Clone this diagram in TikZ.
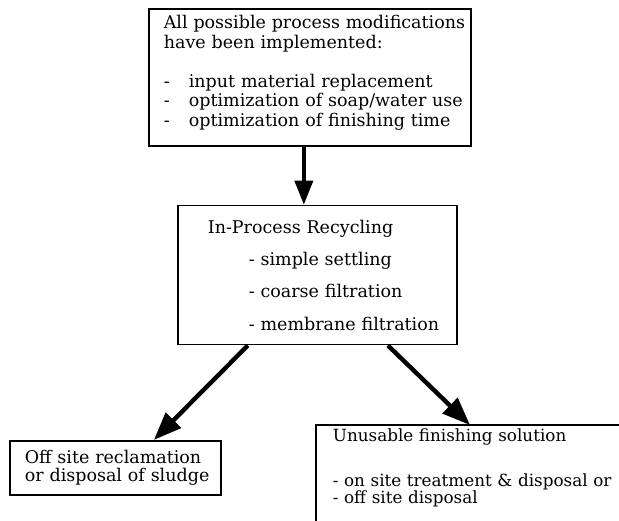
\documentclass[tikz,border=0pt]{standalone}
\usepackage{fontspec}
\setmainfont{DejaVu Serif}
\usetikzlibrary{calc}
\usetikzlibrary{positioning}
\usetikzlibrary{arrows.meta}

\tikzset{
    box/.style={rectangle, draw, line width=1.7pt, align=left, inner ysep=0pt, font=\fontsize{17.5}{19.5}\selectfont},
    flow/.style={line width=3.6pt, -{Triangle[length=24pt, width=18pt]}},
    bigflow/.style={line width=4.4pt, -{Triangle[length=28pt, width=21pt]}},
}

\begin{document}
\begin{tikzpicture}[x=1pt, y=-1pt]
    \useasboundingbox (0,0) rectangle (619,521);
    \clip (0,0) rectangle (619,521);

    \node [box, anchor=north west, minimum width=322pt, minimum height=137pt, text width=316pt, inner xsep=3pt] (mods) at (148,8) {\hspace*{12pt}All possible process modifications\\\hspace*{12pt}have been implemented:\\[19.5pt]\hspace*{12pt}\makebox[25pt][l]{-}input material replacement\\\hspace*{12pt}\makebox[25pt][l]{-}optimization of soap/water use\\\hspace*{12pt}\makebox[25pt][l]{-}optimization of finishing time\rule[-13.4pt]{0pt}{13.4pt}};

    \node [box, minimum width=279pt, minimum height=139pt, text width=249pt, inner xsep=15pt, font=\fontsize{17.5}{32.3}\selectfont, below=58pt of mods.south, xshift=7.5pt] (recyc) {\hspace*{15pt}In-Process Recycling\\\hspace*{56pt}- simple settling\\\hspace*{56pt}- coarse filtration\\\hspace*{56pt}- membrane filtration};

    \node [box, anchor=north west, minimum width=211pt, minimum height=54pt, text width=199pt, inner xsep=6pt, font=\fontsize{17.5}{18.3}\selectfont] (sludge) at (9,440) {\hspace*{9pt}Off site reclamation\\\hspace*{9pt}or disposal of sludge};

    \node [box, draw=none, anchor=north west, text width=300pt, inner xsep=16pt, inner ysep=3pt, font=\fontsize{16.8}{17.5}\selectfont] (unus) at (316,425) {Unusable finishing solution\\[27pt]- on site treatment \& disposal or\\- off site disposal};
    \draw [line width=1.7pt] (unus.north west) rectangle ++(330,120);

    \draw [flow] ([xshift=-6pt]mods.south) -- ([xshift=-13.5pt]recyc.north);
    \draw [bigflow] ([xshift=-69.5pt]recyc.south) -- ([xshift=38.5pt]sludge.north);
    \draw [bigflow] ([xshift=70.5pt]recyc.south) -- ([xshift=154pt]unus.north west);
\end{tikzpicture}
\end{document}
